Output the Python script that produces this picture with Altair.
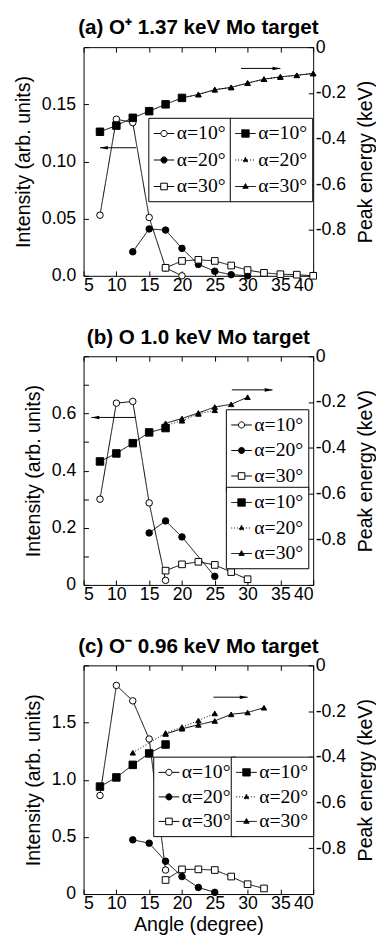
import altair as alt
import pandas as pd

# ---------------- data ----------------
x_ticks = [5, 10, 15, 20, 25, 30, 35, 40]
series_labels = ["α=10°", "α=20°", "α=30°"]
energy_ticks = [0, -0.2, -0.4, -0.6, -0.8, -1.0]

# Panel (a)  O+ 1.37 keV
a_i10_x = [7.5, 10, 12.5, 15, 17.5, 20]
a_i10_y = [0.053, 0.137, 0.134, 0.051, 0.007, 0.0]
a_i20_x = [12.5, 15, 17.5, 20, 22.5, 25, 27.5, 30]
a_i20_y = [0.021, 0.041, 0.040, 0.024, 0.010, 0.004, 0.001, 0.0]
a_i30_x = [17.5, 20, 22.5, 25, 27.5, 30, 32.5, 35, 37.5, 40]
a_i30_y = [0.007, 0.013, 0.014, 0.013, 0.009, 0.005, 0.0026, 0.0014, 0.001, 0.0]
a_e10_x = [7.5, 10, 12.5, 15, 17.5, 20]
a_e10_y = [-0.370, -0.343, -0.309, -0.280, -0.250, -0.222]
a_e20_x = [20, 22.5, 25, 27.5, 30, 32.5, 35, 37.5, 40]
a_e20_y = [-0.222, -0.207, -0.186, -0.176, -0.157, -0.140, -0.130, -0.123, -0.115]
a_e30_x = [20, 22.5, 25, 27.5, 30, 32.5, 35, 37.5, 40]
a_e30_y = [-0.222, -0.207, -0.186, -0.176, -0.157, -0.140, -0.130, -0.123, -0.115]
a_arrow_int = [7.5, 13.0, 0.112]      # x-tip, x-tail, intensity
a_arrow_en = [35.0, 29.0, -0.093]     # x-tip, x-tail, energy

# Panel (b)  O 1.0 keV
b_i10_x = [7.5, 10, 12.5, 15, 17.5]
b_i10_y = [0.30, 0.636, 0.642, 0.287, 0.016]
b_i20_x = [15, 17.5, 20, 25]
b_i20_y = [0.182, 0.224, 0.168, 0.030]
b_i30_x = [17.5, 20, 22.5, 25, 27.5, 30]
b_i30_y = [0.050, 0.072, 0.081, 0.070, 0.045, 0.020]
b_e10_x = [7.5, 10, 12.5, 15, 17.5]
b_e10_y = [-0.460, -0.425, -0.380, -0.333, -0.314]
b_e20_x = [17.5, 20, 22.5, 25]
b_e20_y = [-0.303, -0.282, -0.252, -0.236]
b_e30_x = [17.5, 20, 22.5, 25, 27.5, 30]
b_e30_y = [-0.293, -0.272, -0.248, -0.222, -0.210, -0.179]
b_arrow_int = [6.2, 12.95, 0.586]
b_arrow_en = [33.8, 27.6, -0.147]

# Panel (c)  O- 0.96 keV
c_i10_x = [7.5, 10, 12.5, 15, 17.5]
c_i10_y = [0.862, 1.825, 1.69, 1.356, 0.21]
c_i20_x = [12.5, 15, 17.5, 20, 22.5, 25]
c_i20_y = [0.474, 0.445, 0.287, 0.153, 0.058, 0.015]
c_i30_x = [17.5, 20, 22.5, 25, 27.5, 30, 32.5]
c_i30_y = [0.123, 0.216, 0.216, 0.21, 0.153, 0.086, 0.049]
c_e10_x = [7.5, 10, 12.5, 15, 17.5]
c_e10_y = [-0.530, -0.490, -0.435, -0.385, -0.346]
c_e20_x = [12.5, 17.5, 20, 22.5, 25]
c_e20_y = [-0.382, -0.296, -0.270, -0.241, -0.210]
c_e30_x = [17.5, 20, 22.5, 25, 27.5, 30, 32.5]
c_e30_y = [-0.300, -0.277, -0.260, -0.243, -0.214, -0.206, -0.185]
c_arrow_en = [30.0, 24.8, -0.139]

# ---------------- styling ----------------
SANS = "Liberation Sans"
SERIF = "Liberation Serif"

INT_STYLES = [
    dict(shape="circle", fill="white", size=44, dash=[1, 0]),
    dict(shape="circle", fill="black", size=44, dash=[1, 0]),
    dict(shape="square", fill="white", size=46, dash=[1, 0]),
]
EN_STYLES = [
    dict(shape="square", fill="black", size=58, dash=[1, 0]),
    dict(shape="triangle-up", fill="black", size=30, dash=[1, 2]),
    dict(shape="triangle-up", fill="black", size=30, dash=[1, 0]),
]

STUB = "M-1,0H-0.32M0.32,0H1"
P_CIRCLE = STUB + "M0.3,0A0.3,0.3,0,1,1,-0.3,0A0.3,0.3,0,1,1,0.3,0Z"
P_SQUARE = STUB + "M-0.32,-0.32H0.32V0.32H-0.32Z"
P_BIGSQ = "M-1,0H-0.36M0.36,0H1M-0.36,-0.36H0.36V0.36H-0.36Z"
P_TRI = "M-1,0H1M0,-0.28L0.26,0.18H-0.26Z"
INT_PATHS = [P_CIRCLE, P_CIRCLE, P_SQUARE]
EN_PATHS = [P_BIGSQ, P_TRI, P_TRI]

W, H = 234, 233


def frame(xs, ys, name):
    return pd.DataFrame({"angle": xs, "value": ys, "series": name})


def legend(lx, ly, row_pad):
    return alt.Legend(
        orient="none", legendX=lx, legendY=ly, title=None, direction="vertical",
        labelFont=SERIF, labelFontSize=20, labelColor="black", labelOffset=2,
        symbolSize=441, symbolStrokeWidth=1, symbolStrokeColor="black",
        symbolOpacity=1, strokeColor="black", fillColor="white",
        padding=5, rowPadding=row_pad, cornerRadius=0,
    )


def arrow_layers(arrow, xenc, yfield_axis, direction):
    tip, tail, yv = arrow
    df = pd.DataFrame({"angle": [tip], "angle2": [tail], "value": [yv]})
    rule = alt.Chart(df).mark_rule(color="black", strokeWidth=1).encode(
        x=xenc, x2="angle2:Q", y=yfield_axis)
    head_path = "M0,0L2,-0.45L2,0.45Z" if direction == "left" else "M0,0L-2,-0.45L-2,0.45Z"
    head = alt.Chart(df).mark_point(shape=head_path, filled=True, color="black",
                                    size=64, opacity=1).encode(x=xenc, y=yfield_axis)
    return [rule, head]


def series_layers(frames, styles, xenc, yenc):
    layers = []
    for df, st in zip(frames, styles):
        layers.append(
            alt.Chart(df).mark_line(color="black", strokeWidth=1, strokeDash=st["dash"]).encode(
                x=xenc, y=yenc)
        )
    for df, st in zip(frames, styles):
        layers.append(
            alt.Chart(df).mark_point(shape=st["shape"], filled=True, fill=st["fill"],
                                     stroke="black", strokeWidth=1, size=st["size"],
                                     opacity=1).encode(x=xenc, y=yenc)
        )
    return layers


def make_panel(title, int_frames, en_frames, y_dom, y_vals, y_expr,
               leg_i, leg_e, arrow_i, arrow_e, xtitle):
    xscale = alt.Scale(domain=[5, 40], nice=False, zero=False)
    x_bottom = alt.X("angle:Q", scale=xscale, axis=alt.Axis(
        orient="bottom", values=x_ticks, format="d", domain=False, offset=-5,
        tickSize=5, labelPadding=1, grid=False, title=xtitle, titlePadding=2))
    x_top = alt.X("angle:Q", scale=xscale, axis=alt.Axis(
        orient="top", values=x_ticks, labels=False, domain=False, offset=-5,
        tickSize=5, grid=False, title=None))
    y_int = alt.Y("value:Q", scale=alt.Scale(domain=y_dom, nice=False, zero=False),
                  axis=alt.Axis(orient="left", values=y_vals, labelExpr=y_expr,
                                domain=False, offset=-5, tickSize=5, labelPadding=8,
                                grid=False, title="Intensity (arb. units)", titlePadding=8))
    y_en = alt.Y("value:Q", scale=alt.Scale(domain=[-1, 0], nice=False, zero=False),
                 axis=alt.Axis(orient="right", values=energy_ticks,
                               labelExpr="datum.value == 0 ? '0' : (datum.value < -0.9 ? '' : '-' + format(-datum.value, '.1f'))",
                               domain=False, offset=-5, tickSize=5, labelPadding=2,
                               grid=False, title="Peak energy (keV)", titleAngle=270,
                               titleBaseline="top", titlePadding=10))

    leg_df = pd.DataFrame({"series": series_labels})
    black3 = alt.Scale(domain=series_labels, range=["black", "black", "black"])
    int_leg = alt.Chart(leg_df).transform_filter("false").mark_point(
        filled=True, strokeWidth=1, opacity=1).encode(
        shape=alt.Shape("series:N", scale=alt.Scale(domain=series_labels, range=INT_PATHS),
                        legend=legend(*leg_i)),
        fill=alt.Fill("series:N", scale=alt.Scale(domain=series_labels,
                                                  range=["white", "black", "white"]),
                      legend=legend(*leg_i)),
        stroke=alt.Stroke("series:N", scale=black3, legend=legend(*leg_i)),
    )
    en_leg = alt.Chart(leg_df).transform_filter("false").mark_point(
        filled=True, strokeWidth=1, opacity=1).encode(
        shape=alt.Shape("series:N", scale=alt.Scale(domain=series_labels, range=EN_PATHS),
                        legend=legend(*leg_e)),
        fill=alt.Fill("series:N", scale=black3, legend=legend(*leg_e)),
        stroke=alt.Stroke("series:N", scale=black3, legend=legend(*leg_e)),
        strokeDash=alt.StrokeDash("series:N", scale=alt.Scale(domain=series_labels,
                                                              range=[[1, 0], [1, 2], [1, 0]]),
                                  legend=legend(*leg_e)),
    )

    int_layers = series_layers(int_frames, INT_STYLES, x_bottom, y_int)
    if arrow_i is not None:
        int_layers += arrow_layers(arrow_i, x_bottom, y_int, "left")
    int_layers.append(int_leg)

    en_layers = series_layers(en_frames, EN_STYLES, x_top, y_en)
    en_layers += arrow_layers(arrow_e, x_top, y_en, "right")
    en_layers.append(en_leg)

    panel = alt.layer(alt.layer(*int_layers), alt.layer(*en_layers)).resolve_scale(
        y="independent", shape="independent", fill="independent",
        stroke="independent", strokeDash="independent"
    ).resolve_axis(x="independent").resolve_legend(
        shape="independent", fill="independent", stroke="independent",
        strokeDash="independent"
    ).properties(
        width=W, height=H,
        title=alt.TitleParams(title, font=SANS, fontSize=21, fontWeight="bold",
                              anchor="middle", color="black", offset=0),
    )
    return panel


pa = make_panel(
    "(a) O⁺ 1.37 keV Mo target",
    [frame(a_i10_x, a_i10_y, 0), frame(a_i20_x, a_i20_y, 1), frame(a_i30_x, a_i30_y, 2)],
    [frame(a_e10_x, a_e10_y, 0), frame(a_e20_x, a_e20_y, 1), frame(a_e30_x, a_e30_y, 2)],
    [0, 0.2], [0, 0.05, 0.1, 0.15, 0.2],
    "datum.value == 0 ? '0.0' : (datum.value > 0.19 ? '' : format(datum.value, '.2f'))",
    (66, 72, 6), (149, 72, 6), a_arrow_int, a_arrow_en, None,
)
pb = make_panel(
    "(b) O 1.0 keV Mo target",
    [frame(b_i10_x, b_i10_y, 0), frame(b_i20_x, b_i20_y, 1), frame(b_i30_x, b_i30_y, 2)],
    [frame(b_e10_x, b_e10_y, 0), frame(b_e20_x, b_e20_y, 1), frame(b_e30_x, b_e30_y, 2)],
    [0, 0.8], [0, 0.1, 0.2, 0.3, 0.4, 0.5, 0.6, 0.7, 0.8],
    "datum.value == 0 ? '0' : ((abs(round(datum.value * 10)) % 2 == 1 || datum.value > 0.75) ? '' : format(datum.value, '.1f'))",
    (145, 54, 5), (145, 133, 5), b_arrow_int, b_arrow_en, None,
)
pc = make_panel(
    "(c) O⁻ 0.96 keV Mo target",
    [frame(c_i10_x, c_i10_y, 0), frame(c_i20_x, c_i20_y, 1), frame(c_i30_x, c_i30_y, 2)],
    [frame(c_e10_x, c_e10_y, 0), frame(c_e20_x, c_e20_y, 1), frame(c_e30_x, c_e30_y, 2)],
    [0, 2.0], [0, 0.5, 1.0, 1.5, 2.0],
    "datum.value == 0 ? '0' : (datum.value > 1.9 ? '' : format(datum.value, '.1f'))",
    (71, 93, 4), (150, 93, 4), None, c_arrow_en, "Angle (degree)",
)

chart = alt.vconcat(
    pa, alt.vconcat(pb, pc, spacing=31), spacing=31,
    background="white",
    padding={"left": 5, "top": 0, "right": 0, "bottom": 0},
).configure_view(
    stroke="black", strokeWidth=1
).configure_axis(
    labelFont=SANS, labelFontSize=18, labelColor="black",
    titleFont=SANS, titleFontSize=20, titleFontWeight="normal", titleColor="black",
    tickColor="black", tickWidth=1,
)

chart.save("out.html", embed_options={"renderer": "svg", "actions": False})
